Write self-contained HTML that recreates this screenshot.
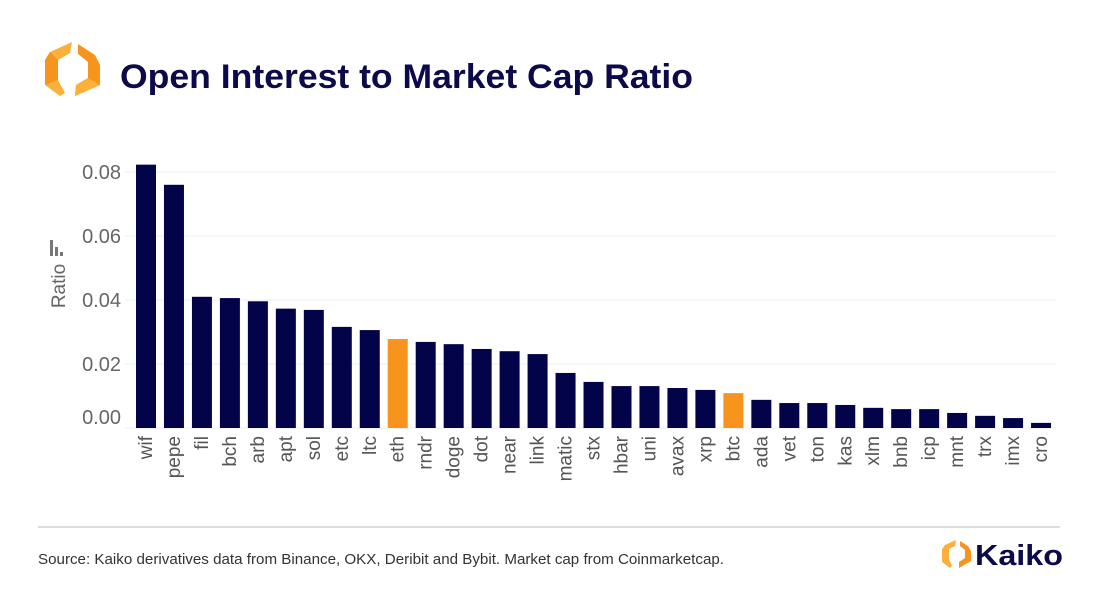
<!DOCTYPE html>
<html><head><meta charset="utf-8">
<style>
body{margin:0;width:1100px;height:590px;background:#fff;font-family:"Liberation Sans",Arial,sans-serif;overflow:hidden;position:relative}
</style></head>
<body>
<svg width="1100" height="590" style="position:absolute;left:0;top:0">
  <g>
    <path d="M72,42 L70,53 L58,60 L58,80 L65,93 L60,96 L45,85 L45,60 L50,52 Z" fill="#fbb03b"/>
    <path d="M50,52 L58,60 L58,80 L45,85 L45,60 Z" fill="#f7941d"/>
    <path d="M78,44 L95,55 L100,65 L100,85 L75,96 L76,85 L88,78 L88,62 L78,54 Z" fill="#f7941d"/>
    <path d="M100,85 L75,96 L76,85 L88,78 Z" fill="#fbb03b"/>
  </g>
  <text x="120" y="88" font-size="34" font-weight="bold" fill="#0c0a4a" textLength="573" lengthAdjust="spacingAndGlyphs">Open Interest to Market Cap Ratio</text>
  <g id="grid"></g>
  <g id="yt"></g>
  <g id="bars"></g>
  <g id="xt"></g>
  <text transform="translate(65,286) rotate(-90)" text-anchor="middle" font-size="19" fill="#666">Ratio</text>
  <g fill="#777">
    <rect x="50" y="240" width="3" height="16"/><rect x="55" y="247" width="3" height="9"/><rect x="60" y="252" width="3" height="4"/>
  </g>
  <line x1="38" y1="527" x2="1060" y2="527" stroke="#bbb" stroke-width="1"/>
  <text x="38" y="564" font-size="15" fill="#333" textLength="686" lengthAdjust="spacingAndGlyphs">Source: Kaiko derivatives data from Binance, OKX, Deribit and Bybit. Market cap from Coinmarketcap.</text>
  <g>
    <path d="M956,540 L955,546 L949,549 L949,559 L952,566 L950,568 L942,562 L942,549 L945,545 Z" fill="#fbb03b"/>
    <path d="M960,541 L968,546 L971,551 L971,561 L959,568 L959,562 L965,558 L965,550 L960,546 Z" fill="#f7941d"/>
    <text x="975" y="565" font-size="29" font-weight="bold" fill="#0c0a4a" textLength="88" lengthAdjust="spacingAndGlyphs">Kaiko</text>
  </g>
</svg>
<script>
const categories=["wif","pepe","fil","bch","arb","apt","sol","etc","ltc","eth","rndr","doge","dot","near","link","matic","stx","hbar","uni","avax","xrp","btc","ada","vet","ton","kas","xlm","bnb","icp","mnt","trx","imx","cro"];
const values=[0.0823,0.0760,0.0410,0.0406,0.0396,0.0373,0.0369,0.0316,0.0306,0.0278,0.0269,0.0262,0.0247,0.0240,0.0231,0.0172,0.0144,0.0131,0.0131,0.0125,0.0119,0.0109,0.0088,0.0078,0.0078,0.0072,0.0063,0.0059,0.0059,0.0047,0.0038,0.0031,0.0016];
const highlighted=["eth","btc"];
const yTicks=[0,0.02,0.04,0.06,0.08];
const yTickLabels=["0.00","0.02","0.04","0.06","0.08"];
const NS="http://www.w3.org/2000/svg";
const y0=428,k=3200,x0=146,step=27.97,bw=20;
const yS=v=>y0-v*k, xS=i=>x0+i*step;
function mk(t,a,p){const e=document.createElementNS(NS,t);for(const n in a)e.setAttribute(n,a[n]);p.appendChild(e);return e;}
const grid=document.getElementById('grid'),yt=document.getElementById('yt'),bars=document.getElementById('bars'),xt=document.getElementById('xt');
yTicks.forEach((v,i)=>{
  if(v>0){const l=mk('line',{x1:125,x2:1056,y1:yS(v),y2:yS(v),stroke:'#eeeeee','stroke-width':1},grid);
  
  }
  const ty=v===0?yS(v)-4:yS(v)+7;
  const t=mk('text',{x:121,y:ty,'text-anchor':'end','font-size':20,fill:'#666'},yt);
  t.textContent=yTickLabels[i];
  
  
});
const base=mk('line',{x1:125,x2:1056,y1:y0,y2:y0,stroke:'#eee'},grid);


categories.forEach((c,i)=>{
  const v=values[i];
  const r=mk('rect',{x:xS(i)-bw/2,y:yS(v),width:bw,height:v*k,fill:highlighted.includes(c)?'#f7941d':'#03034a'},bars);
  
  
  const t=mk('text',{transform:`translate(${xS(i)+6},${y0+8}) rotate(-90)`,'text-anchor':'end','font-size':19,fill:'#555'},xt);
  t.textContent=c;
  
  
});
</script>
</body></html>
